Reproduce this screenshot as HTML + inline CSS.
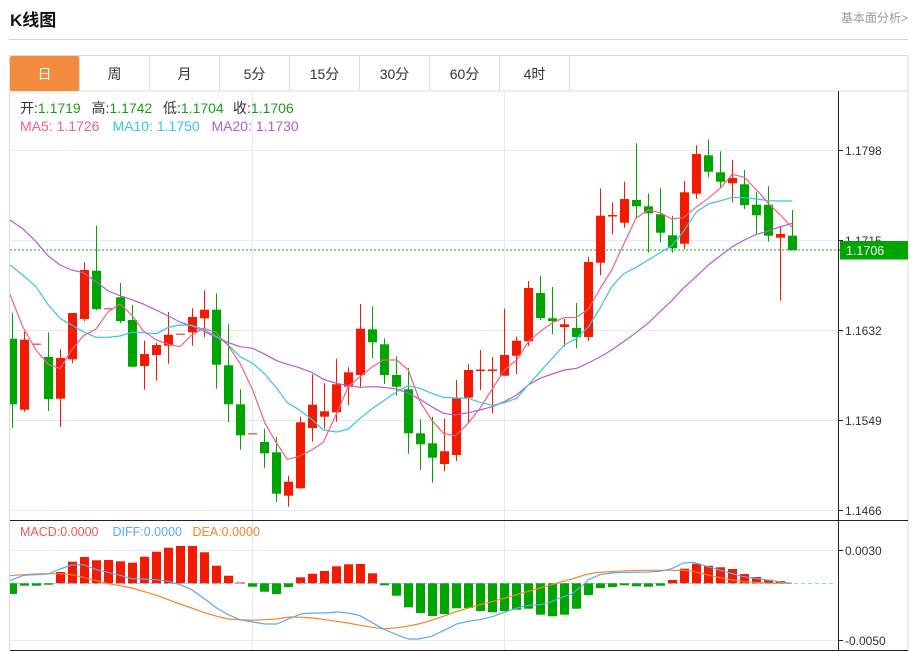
<!DOCTYPE html>
<html><head><meta charset="utf-8"><style>
html,body{margin:0;padding:0;background:#fff;width:915px;height:651px;overflow:hidden}
svg{display:block;font-family:"Liberation Sans","Noto Sans CJK SC",sans-serif}
</style></head><body>
<svg width="915" height="651" viewBox="0 0 915 651" xmlns="http://www.w3.org/2000/svg">
<defs><clipPath id="pc"><rect x="10" y="91" width="828" height="559"/></clipPath></defs>
<!-- header -->
<text x="10" y="26" font-size="17" font-weight="bold" fill="#111">K线图</text>
<text x="841" y="22" font-size="12" fill="#999">基本面分析&gt;</text>
<line x1="9" y1="39.5" x2="908" y2="39.5" stroke="#d4d4d4" stroke-width="1"/>
<!-- tabs -->
<rect x="9.5" y="55.5" width="898.5" height="35.5" fill="#fff" stroke="#dcdcdc"/>
<rect x="10" y="56" width="69" height="35" fill="#f38b3f" rx="2"/>
<g stroke="#dcdcdc"><line x1="79.5" y1="55" x2="79.5" y2="91"/><line x1="149.5" y1="55" x2="149.5" y2="91"/><line x1="219.5" y1="55" x2="219.5" y2="91"/><line x1="289.5" y1="55" x2="289.5" y2="91"/><line x1="359.5" y1="55" x2="359.5" y2="91"/><line x1="429.5" y1="55" x2="429.5" y2="91"/><line x1="499.5" y1="55" x2="499.5" y2="91"/><line x1="569.5" y1="55" x2="569.5" y2="91"/></g>
<g font-size="14" fill="#333" text-anchor="middle">
<text x="44.5" y="79" fill="#fff">日</text><text x="114.5" y="79">周</text><text x="184.5" y="79">月</text><text x="254.5" y="79">5分</text><text x="324.5" y="79">15分</text><text x="394.5" y="79">30分</text><text x="464.5" y="79">60分</text><text x="534.5" y="79">4时</text></g>
<!-- frame -->
<line x1="9.5" y1="91" x2="9.5" y2="650" stroke="#dcdcdc"/>
<line x1="908" y1="55" x2="908" y2="650" stroke="#dcdcdc"/>
<!-- grid -->
<g stroke="#e2ecf4" stroke-width="1">
<line x1="10" y1="150.5" x2="838" y2="150.5"/><line x1="10" y1="240.5" x2="838" y2="240.5"/><line x1="10" y1="330.5" x2="838" y2="330.5"/><line x1="10" y1="420.5" x2="838" y2="420.5"/><line x1="10" y1="510.5" x2="838" y2="510.5"/>
<line x1="10" y1="550.5" x2="838" y2="550.5"/><line x1="10" y1="640.5" x2="838" y2="640.5"/>
<line x1="252.5" y1="91" x2="252.5" y2="650"/><line x1="504.5" y1="91" x2="504.5" y2="650"/>
</g>
<!-- info text -->
<g font-size="14">
<text x="20" y="113" fill="#333">开:<tspan fill="#1a9e1a">1.1719</tspan></text>
<text x="91.5" y="113" fill="#333">高:<tspan fill="#1a9e1a">1.1742</tspan></text>
<text x="163" y="113" fill="#333">低:<tspan fill="#1a9e1a">1.1704</tspan></text>
<text x="233" y="113" fill="#333">收:<tspan fill="#1a9e1a">1.1706</tspan></text>
<text x="20" y="131" fill="#f0608a">MA5: 1.1726</text>
<text x="112.5" y="131" fill="#3ac6dd">MA10: 1.1750</text>
<text x="211.5" y="131" fill="#b55ec8">MA20: 1.1730</text>
</g>
<g clip-path="url(#pc)">
<!-- price line -->
<line x1="10" y1="250" x2="838" y2="250" stroke="#1aa81a" stroke-dasharray="2,2" stroke-width="1"/>
<!-- red candles -->
<g fill="#f21a00">
<rect x="20" y="339.7" width="9" height="70"/><rect x="24" y="331.7" width="1" height="80"/>
<rect x="32" y="343.5" width="9" height="1.5" fill="#f26a5a"/>
<rect x="56" y="358" width="9" height="40.7"/><rect x="60" y="349" width="1" height="78"/>
<rect x="68" y="313" width="9" height="46.3"/><rect x="72" y="313" width="1" height="50.3"/>
<rect x="80" y="270" width="9" height="49"/><rect x="84" y="262.3" width="1" height="58.7"/>
<rect x="104" y="308" width="9" height="1.5" fill="#f26a5a"/>
<rect x="140" y="354" width="9" height="12"/><rect x="144" y="340.7" width="1" height="49"/>
<rect x="152" y="345" width="9" height="10"/><rect x="156" y="343" width="1" height="37.7"/>
<rect x="164" y="334.7" width="9" height="11"/><rect x="168" y="312" width="1" height="51.7"/>
<rect x="176" y="333.5" width="9" height="1.5" fill="#f26a5a"/>
<rect x="188" y="317" width="9" height="15.3"/><rect x="192" y="308.3" width="1" height="37.4"/>
<rect x="200" y="309.7" width="9" height="8.6"/><rect x="204" y="290.3" width="1" height="46.7"/>
<rect x="248" y="433" width="9" height="1.5" fill="#f26a5a"/>
<rect x="284" y="481.7" width="9" height="14"/><rect x="288" y="475.7" width="1" height="31"/>
<rect x="296" y="422.3" width="9" height="66"/><rect x="300" y="416.7" width="1" height="71.6"/>
<rect x="308" y="404.7" width="9" height="23.3"/><rect x="312" y="374.3" width="1" height="67.4"/>
<rect x="320" y="411.3" width="9" height="5.4"/><rect x="324" y="383.3" width="1" height="45.4"/>
<rect x="332" y="384.3" width="9" height="28"/><rect x="336" y="358.7" width="1" height="63"/>
<rect x="344" y="372.3" width="9" height="14.4"/><rect x="348" y="367.3" width="1" height="37.7"/>
<rect x="356" y="328.7" width="9" height="46.3"/><rect x="360" y="304" width="1" height="83.7"/>
<rect x="440" y="451.3" width="9" height="12.7"/><rect x="444" y="418.7" width="1" height="52.6"/>
<rect x="452" y="398.3" width="9" height="56.7"/><rect x="456" y="380" width="1" height="81"/>
<rect x="464" y="370" width="9" height="27.7"/><rect x="468" y="364.3" width="1" height="58"/>
<rect x="476" y="369.5" width="9" height="1.5"/><rect x="480" y="350" width="1" height="40"/>
<rect x="488" y="369.5" width="9" height="1.5"/><rect x="492" y="357" width="1" height="56.3"/>
<rect x="500" y="355" width="9" height="20.7"/><rect x="504" y="308.7" width="1" height="67"/>
<rect x="512" y="340.7" width="9" height="15"/><rect x="516" y="336.7" width="1" height="37.6"/>
<rect x="524" y="288" width="9" height="53.3"/><rect x="528" y="281" width="1" height="65"/>
<rect x="560" y="324.3" width="9" height="2.7"/><rect x="564" y="319" width="1" height="27.7"/>
<rect x="584" y="262" width="9" height="75"/><rect x="588" y="257" width="1" height="84"/>
<rect x="596" y="215.7" width="9" height="47"/><rect x="600" y="188.3" width="1" height="87"/>
<rect x="608" y="215" width="9" height="1.5"/><rect x="612" y="202.3" width="1" height="32"/>
<rect x="620" y="199" width="9" height="23.7"/><rect x="624" y="181.7" width="1" height="46"/>
<rect x="680" y="192.3" width="9" height="51.4"/><rect x="684" y="181" width="1" height="68"/>
<rect x="692" y="154" width="9" height="39.7"/><rect x="696" y="145.3" width="1" height="53.7"/>
<rect x="728" y="178" width="9" height="5.3"/><rect x="732" y="159.7" width="1" height="42.6"/>
<rect x="776" y="234" width="9" height="3.7"/><rect x="780" y="226.3" width="1" height="74.4"/>
</g>
<!-- green candles -->
<g fill="#00a600">
<rect x="8" y="338.7" width="9" height="65.6"/><rect x="12" y="312.7" width="1" height="115"/>
<rect x="44" y="357" width="9" height="42"/><rect x="48" y="332.3" width="1" height="78.7"/>
<rect x="92" y="270.7" width="9" height="38.3"/><rect x="96" y="225.7" width="1" height="84.6"/>
<rect x="116" y="297.3" width="9" height="23.7"/><rect x="120" y="283" width="1" height="40"/>
<rect x="128" y="320" width="9" height="46.7"/><rect x="132" y="305" width="1" height="62.3"/>
<rect x="212" y="309.7" width="9" height="55"/><rect x="216" y="293.3" width="1" height="95.4"/>
<rect x="224" y="365.3" width="9" height="39"/><rect x="228" y="324.3" width="1" height="98"/>
<rect x="236" y="404.3" width="9" height="31"/><rect x="240" y="389.3" width="1" height="60.4"/>
<rect x="260" y="442" width="9" height="11.3"/><rect x="264" y="428.7" width="1" height="39"/>
<rect x="272" y="452.3" width="9" height="41.4"/><rect x="276" y="437" width="1" height="65.3"/>
<rect x="368" y="329.3" width="9" height="13"/><rect x="372" y="306.3" width="1" height="52"/>
<rect x="380" y="344.3" width="9" height="30.7"/><rect x="384" y="338.3" width="1" height="45.7"/>
<rect x="392" y="375" width="9" height="11.7"/><rect x="396" y="356.3" width="1" height="39.4"/>
<rect x="404" y="389.3" width="9" height="44"/><rect x="408" y="367.7" width="1" height="86"/>
<rect x="416" y="433.3" width="9" height="11"/><rect x="420" y="419.3" width="1" height="51"/>
<rect x="428" y="443.3" width="9" height="14.4"/><rect x="432" y="416.7" width="1" height="66"/>
<rect x="536" y="293" width="9" height="25"/><rect x="540" y="275.7" width="1" height="44.3"/>
<rect x="548" y="318.3" width="9" height="2.7"/><rect x="552" y="287" width="1" height="47"/>
<rect x="572" y="328" width="9" height="9"/><rect x="576" y="303" width="1" height="45.3"/>
<rect x="632" y="200" width="9" height="6.3"/><rect x="636" y="143.3" width="1" height="75"/>
<rect x="644" y="206.3" width="9" height="7"/><rect x="648" y="193.3" width="1" height="59.4"/>
<rect x="656" y="214.3" width="9" height="18.4"/><rect x="660" y="188.3" width="1" height="54.4"/>
<rect x="668" y="235.3" width="9" height="13"/><rect x="672" y="215.7" width="1" height="37"/>
<rect x="704" y="155.3" width="9" height="16.4"/><rect x="708" y="139.3" width="1" height="38"/>
<rect x="716" y="172.3" width="9" height="9.4"/><rect x="720" y="151.3" width="1" height="37"/>
<rect x="740" y="184.3" width="9" height="20.7"/><rect x="744" y="170" width="1" height="39"/>
<rect x="752" y="204.7" width="9" height="10.6"/><rect x="756" y="191.7" width="1" height="42.6"/>
<rect x="764" y="204.7" width="9" height="31"/><rect x="768" y="186.3" width="1" height="55.4"/>
<rect x="788" y="235.7" width="9" height="14.6"/><rect x="792" y="210" width="1" height="40.3"/>
</g>
<!-- MA lines -->
<g fill="none" stroke-width="1.2" stroke-linejoin="round">
<polyline stroke="#b55ec8" points="10,220 22.7,228.7 36,241.7 48.3,256 60,265 71.7,270 83.3,272.7 96,281.7 108.3,291 120,295.7 131.7,299.7 143.3,304 156.7,310.3 168.3,316 180,322 191.7,326 203.3,331 215,336.7 227.7,342.3 240,346.7 252.7,348.3 265,354.3 276.7,360.7 287.3,364.3 298.3,367.3 311.7,372.3 323.3,379.3 336.7,383.3 348.3,385.7 360,387.3 371.7,386.7 383.3,387.3 396.7,389 408.3,393.3 420,399.3 431.7,406.7 443.3,413.3 455,415 468.3,412.7 480,410 492.3,406.7 504.3,401.7 516.7,395 528.3,385 540,378.3 552.3,374 564.3,370 576.7,368.3 588.3,363 600,357 611.7,350 623.3,341.7 636,332.7 648.3,323 660,311.7 671.7,300.7 683.3,288.3 696.7,276 708.3,265 720,256 732.3,246.7 744.3,240 756.7,234.3 768.3,231 780.3,226.7 792.3,223.3"/>
<polyline stroke="#3ac6dd" points="10,265 22.7,275 36,286.7 48.3,305 60,318.3 71.7,325 83.3,331.7 96,337.3 108.3,337.3 120,336 131.7,332.3 143.3,332.7 156.7,333.7 168.3,327.3 180,325 191.7,325.3 203.3,329.3 215,335.7 227.7,344.3 240,356.7 252.7,363.3 265,374.3 276.7,388.3 287.3,402.7 298.3,409.3 311.7,419.3 323.3,430 336.7,432 348.3,429 360,418.3 371.7,409 383.3,401 396.7,391.7 408.3,385.7 420,388.3 431.7,393.3 443.3,397.3 455,398 468.3,398.3 480,402.3 492.3,405.3 504.3,402.7 516.7,398.3 528.3,385 540,371.7 552.3,358.3 564.3,345 576.7,338.3 588.3,327 600,308 611.7,286.7 623.3,274 636,267.3 648.3,260 660,252.7 671.7,245.7 683.3,231.7 696.7,211.7 708.3,204 720,201 732.3,197.3 744.3,197.7 756.7,199 768.3,200.7 780.3,201 792.3,201"/>
<polyline stroke="#f0608a" points="10,294.3 22.7,326.7 36,350 48.3,364.3 60,368.7 71.7,350 83.3,335.7 96,329 108.3,311.7 120,304 131.7,315 143.3,331 156.7,340 168.3,344.3 180,346.7 191.7,335 203.3,328.3 215,331.7 227.7,345 240,363.3 252.7,390 265,423.3 276.7,443.3 287.3,459.3 298.3,456.7 311.7,450 323.3,442.3 336.7,413.3 348.3,386.7 360,376.7 371.7,367.3 383.3,360 396.7,360 408.3,370 420,401.7 431.7,420 443.3,433.3 455,436 468.3,423.3 480,408.3 492.3,389 504.3,370 516.7,360 528.3,341.7 540,331.7 552.3,322.7 564.3,317.7 576.7,317.3 588.5,309 600.5,288 611.7,270 623.3,245 636,218.3 648.3,210 660,212.7 671.7,219 683.3,217.7 696.7,206.7 708.3,198.3 720,188.3 732.3,174.3 744.3,177.3 756.7,190 768.3,203.3 780.3,215 792.3,227.3"/>
</g>
<!-- MACD zero line -->
<line x1="10" y1="583.5" x2="836" y2="583.5" stroke="#9fd0ea" stroke-dasharray="4,3" stroke-width="1"/>
<!-- MACD red bars -->
<g fill="#f21a00">
<rect x="56" y="572" width="9" height="11.3"/><rect x="68" y="561.7" width="9" height="21.6"/><rect x="80" y="557" width="9" height="26.3"/><rect x="92" y="560.3" width="9" height="23"/><rect x="104" y="560" width="9" height="23.3"/><rect x="116" y="561.3" width="9" height="22"/><rect x="128" y="562.7" width="9" height="20.6"/><rect x="140" y="556.7" width="9" height="26.6"/><rect x="152" y="551.7" width="9" height="31.6"/><rect x="164" y="547.7" width="9" height="35.6"/><rect x="176" y="546" width="9" height="37.3"/><rect x="188" y="546" width="9" height="37.3"/><rect x="200" y="552.3" width="9" height="31"/><rect x="212" y="565.7" width="9" height="17.6"/><rect x="224" y="575.7" width="9" height="7.6"/><rect x="236" y="582.5" width="9" height="0.8"/>
<rect x="296" y="577.3" width="9" height="6"/><rect x="308" y="573.7" width="9" height="9.6"/><rect x="320" y="571" width="9" height="12.3"/><rect x="332" y="566.3" width="9" height="17"/><rect x="344" y="564.3" width="9" height="19"/><rect x="356" y="564" width="9" height="19.3"/><rect x="368" y="573.3" width="9" height="10"/>
<rect x="668" y="580" width="9" height="3.3"/><rect x="680" y="568.7" width="9" height="14.6"/><rect x="692" y="563.7" width="9" height="19.6"/><rect x="704" y="565.7" width="9" height="17.6"/><rect x="716" y="567.3" width="9" height="16"/><rect x="728" y="569" width="9" height="14.3"/><rect x="740" y="574" width="9" height="9.3"/><rect x="752" y="577" width="9" height="6.3"/><rect x="764" y="579.7" width="9" height="3.6"/><rect x="776" y="581" width="9" height="2.3"/>
</g>
<!-- MACD green bars -->
<g fill="#00a600">
<rect x="8" y="583.3" width="9" height="10.7"/><rect x="20" y="583.3" width="9" height="2.4"/><rect x="32" y="583.3" width="9" height="2.4"/><rect x="44" y="583.3" width="9" height="1.4"/>
<rect x="248" y="583.3" width="9" height="3.4"/><rect x="260" y="583.3" width="9" height="8.4"/><rect x="272" y="583.3" width="9" height="10.7"/><rect x="284" y="583.3" width="9" height="3.7"/>
<rect x="380" y="583.3" width="9" height="2"/><rect x="392" y="583.3" width="9" height="12.4"/><rect x="404" y="583.3" width="9" height="24"/><rect x="416" y="583.3" width="9" height="29.7"/><rect x="428" y="583.3" width="9" height="32.7"/><rect x="440" y="583.3" width="9" height="30.7"/><rect x="452" y="583.3" width="9" height="25"/><rect x="464" y="583.3" width="9" height="24.7"/><rect x="476" y="583.3" width="9" height="27.7"/><rect x="488" y="583.3" width="9" height="29"/><rect x="500" y="583.3" width="9" height="27.7"/><rect x="512" y="583.3" width="9" height="26.4"/><rect x="524" y="583.3" width="9" height="25.4"/><rect x="536" y="583.3" width="9" height="31.4"/><rect x="548" y="583.3" width="9" height="33"/><rect x="560" y="583.3" width="9" height="31.4"/><rect x="572" y="583.3" width="9" height="25.4"/><rect x="584" y="583.3" width="9" height="11.7"/><rect x="596" y="583.3" width="9" height="4.7"/><rect x="608" y="583.3" width="9" height="3.7"/><rect x="620" y="583.3" width="9" height="2"/><rect x="632" y="583.3" width="9" height="3"/><rect x="644" y="583.3" width="9" height="3.4"/><rect x="656" y="583.3" width="9" height="2.4"/>
</g>
<!-- DIFF / DEA -->
<g fill="none" stroke-width="1.2" stroke-linejoin="round">
<polyline stroke="#f5852a" points="10,575.7 23.3,574.7 36.7,574 48.3,573.7 60,573.7 71.7,574.7 83.3,577.3 96.7,580.7 108.3,583.7 120,585.7 131.7,588 143.3,591.3 156.7,595.3 168.3,599.7 180,604 191.7,608 203.3,612.3 216.7,616.3 228.3,619 240,619.7 252.7,620.3 265,619.7 276.7,619 290,617 301.7,617.3 313.3,618 325,619.7 336.7,621.3 348.3,623 360,625.3 371.7,627.3 383.3,628.7 395,628 406.7,626.3 418.3,624 430,620.7 443.3,616.3 455,612 468.3,608 480,604.7 493.3,601.3 505,598 516.7,594.7 528.3,591.3 540,588 551.7,584.7 560,582.3 571.7,579 583.3,575.3 593.3,573 605,572 616.7,571.3 630,570.7 643.3,570.3 683.3,570.3 693.3,571.3 706.7,574.7 718.3,577.3 730,579.7 741.7,581.3 753.3,582.3 765,583 791.7,583.3"/>
<polyline stroke="#5aaaf0" points="10,580.7 23.3,575.3 36.7,574.7 48.3,574 60,569 71.7,565 83.3,564.7 96.7,569.7 108.3,572.3 120,575.3 131.7,578.7 143.3,579 156.7,579.7 168.3,581.3 180,584.7 191.7,589.7 203.3,598 216.7,608 228.3,614.7 240,619.7 252.7,622 265,624 276.7,624 288.3,619 301.7,613.7 313.3,613 325,613 336.7,612 348.3,613 360,615.7 371.7,622.3 383.3,629 395,634 408.3,639 418.3,639 431.7,636.3 443.3,630.7 456.7,624 468.3,621.3 480,619.7 493.3,616.3 505,612 516.7,608 528.3,605.3 540,604.7 550,602.3 560,598 571.7,594 583.3,584.7 588.3,579.7 600,574.7 611.7,573 623.3,572.3 636,572.3 648.3,572 660,571.3 671.7,568.7 683.3,563 693.3,562.3 706.7,566.3 718.3,569.7 730,573 741.7,576.3 753.3,578 765,579.7 776.7,581.3 791.7,583.3"/>
</g>
</g>
<!-- MACD legend -->
<g font-size="12.5">
<text x="20" y="536" fill="#ec5a5a">MACD:0.0000</text>
<text x="112.5" y="536" fill="#5aaaf0">DIFF:0.0000</text>
<text x="192.5" y="536" fill="#f5852a">DEA:0.0000</text>
</g>
<!-- axes -->
<line x1="10" y1="520.5" x2="908" y2="520.5" stroke="#222" stroke-width="1"/>
<line x1="10" y1="650.5" x2="908" y2="650.5" stroke="#222" stroke-width="1"/>
<line x1="838.5" y1="91" x2="838.5" y2="651" stroke="#222" stroke-width="1"/>
<g stroke="#222"><line x1="838" y1="150.5" x2="843" y2="150.5"/><line x1="838" y1="240.5" x2="843" y2="240.5"/><line x1="838" y1="330.5" x2="843" y2="330.5"/><line x1="838" y1="420.5" x2="843" y2="420.5"/><line x1="838" y1="510.5" x2="843" y2="510.5"/><line x1="838" y1="550.5" x2="843" y2="550.5"/><line x1="838" y1="640.5" x2="843" y2="640.5"/><line x1="838" y1="250" x2="843" y2="250"/></g>
<g font-size="12" fill="#333">
<text x="845" y="155">1.1798</text><text x="845" y="245">1.1715</text><text x="845" y="335">1.1632</text><text x="845" y="425">1.1549</text><text x="845" y="515">1.1466</text>
<text x="845" y="555">0.0030</text><text x="845" y="645">-0.0050</text>
</g>
<rect x="840" y="241" width="68" height="18.5" fill="#00a600"/>
<text x="846" y="255" font-size="12.5" fill="#fff">1.1706</text>
</svg>
</body></html>
